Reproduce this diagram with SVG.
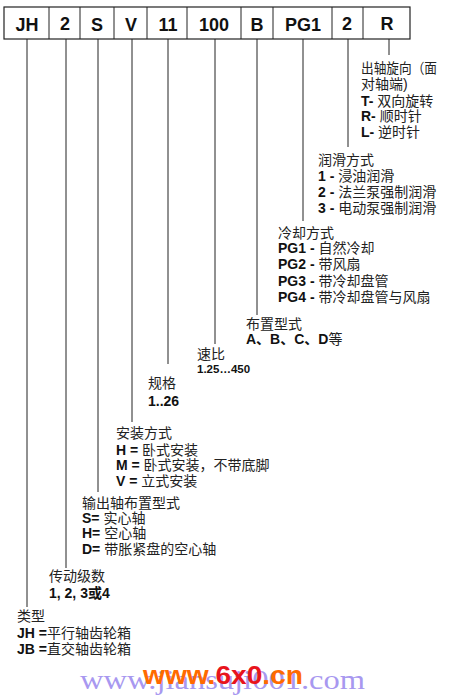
<svg xmlns="http://www.w3.org/2000/svg" width="450" height="699" viewBox="0 0 450 699">
<style>
.box{fill:#fff;stroke:#222;stroke-width:1.2}
.bl{font-family:"Liberation Sans",Arial,sans-serif;font-weight:bold;font-size:18px;fill:#111;text-anchor:middle}
.t{font-family:"Liberation Sans","Noto Sans CJK SC",sans-serif;font-size:14px;fill:#222}
.b{font-weight:bold;fill:#111}
.ln{stroke:#222;stroke-width:1;fill:none}
</style>
<rect width="450" height="699" fill="#fff"/>
<g id="code-boxes">
<rect class="box" x="4" y="7" width="406" height="32"/>
<line class="ln" x1="49" y1="7" x2="49" y2="39"/>
<line class="ln" x1="80" y1="7" x2="80" y2="39"/>
<line class="ln" x1="114" y1="7" x2="114" y2="39"/>
<line class="ln" x1="147" y1="7" x2="147" y2="39"/>
<line class="ln" x1="187" y1="7" x2="187" y2="39"/>
<line class="ln" x1="241" y1="7" x2="241" y2="39"/>
<line class="ln" x1="273" y1="7" x2="273" y2="39"/>
<line class="ln" x1="332" y1="7" x2="332" y2="39"/>
<line class="ln" x1="363" y1="7" x2="363" y2="39"/>
<text class="bl" x="27" y="31">JH</text>
<text class="bl" x="65" y="30">2</text>
<text class="bl" x="97" y="31">S</text>
<text class="bl" x="131" y="31">V</text>
<text class="bl" x="168" y="31">11</text>
<text class="bl" x="214" y="31">100</text>
<text class="bl" x="257" y="31">B</text>
<text class="bl" x="303" y="31">PG1</text>
<text class="bl" x="347" y="30">2</text>
<text class="bl" x="387" y="30">R</text>
</g>
<g id="connectors">
<line class="ln" x1="27" y1="39" x2="27" y2="607"/>
<line class="ln" x1="66" y1="39" x2="66" y2="568"/>
<line class="ln" x1="98" y1="39" x2="98" y2="492"/>
<line class="ln" x1="132" y1="39" x2="132" y2="422"/>
<line class="ln" x1="168" y1="39" x2="168" y2="364"/>
<line class="ln" x1="215" y1="39" x2="215" y2="344"/>
<line class="ln" x1="257" y1="39" x2="257" y2="315"/>
<line class="ln" x1="303" y1="39" x2="303" y2="221"/>
<line class="ln" x1="348" y1="39" x2="348" y2="147"/>
<line class="ln" x1="389" y1="39" x2="389" y2="55"/>
</g>
<g id="rotation">
<text class="t" x="361" y="73" textLength="76" lengthAdjust="spacingAndGlyphs">出轴旋向（面</text>
<text class="t" x="361" y="89">对轴端)</text>
<text class="t" x="361" y="106"><tspan class="b">T-</tspan> 双向旋转</text>
<text class="t" x="361" y="121"><tspan class="b">R-</tspan> 顺时针</text>
<text class="t" x="361" y="137"><tspan class="b">L-</tspan> 逆时针</text>
</g>
<g id="lubrication">
<text class="t" x="318" y="165">润滑方式</text>
<text class="t" x="318" y="181"><tspan class="b">1 -</tspan> 浸油润滑</text>
<text class="t" x="318" y="197"><tspan class="b">2 -</tspan> 法兰泵强制润滑</text>
<text class="t" x="318" y="213"><tspan class="b">3 -</tspan> 电动泵强制润滑</text>
</g>
<g id="cooling">
<text class="t" x="278" y="238">冷却方式</text>
<text class="t" x="278" y="253"><tspan class="b">PG1 -</tspan> 自然冷却</text>
<text class="t" x="278" y="269"><tspan class="b">PG2 -</tspan> 带风扇</text>
<text class="t" x="278" y="286"><tspan class="b">PG3 -</tspan> 带冷却盘管</text>
<text class="t" x="278" y="302"><tspan class="b">PG4 -</tspan> 带冷却盘管与风扇</text>
</g>
<g id="arrangement">
<text class="t" x="246" y="329">布置型式</text>
<text class="t" x="246" y="344"><tspan class="b">A、B、C、D</tspan>等</text>
</g>
<g id="ratio">
<text class="t" x="197" y="359">速比</text>
<text class="t b" x="197" y="373" style="font-size:11.5px">1.25…450</text>
</g>
<g id="size">
<text class="t" x="148" y="388">规格</text>
<text class="t b" x="148" y="406">1..26</text>
</g>
<g id="mounting">
<text class="t" x="116" y="438">安装方式</text>
<text class="t" x="116" y="455"><tspan class="b">H =</tspan> 卧式安装</text>
<text class="t" x="116" y="470"><tspan class="b">M =</tspan> 卧式安装，不带底脚</text>
<text class="t" x="116" y="486"><tspan class="b">V =</tspan> 立式安装</text>
</g>
<g id="output-shaft">
<text class="t" x="82" y="508">输出轴布置型式</text>
<text class="t" x="82" y="523"><tspan class="b">S=</tspan>  实心轴</text>
<text class="t" x="82" y="538"><tspan class="b">H=</tspan>  空心轴</text>
<text class="t" x="82" y="554"><tspan class="b">D=</tspan>  带胀紧盘的空心轴</text>
</g>
<g id="stages">
<text class="t" x="49" y="581">传动级数</text>
<text class="t b" x="49" y="598">1, 2, 3或4</text>
</g>
<g id="type">
<text class="t" x="17" y="621">类型</text>
<text class="t" x="17" y="638"><tspan class="b">JH =</tspan>平行轴齿轮箱</text>
<text class="t" x="17" y="654"><tspan class="b">JB =</tspan>直交轴齿轮箱</text>
</g>
<g id="watermark">
<text x="80" y="689" textLength="285" lengthAdjust="spacingAndGlyphs" style="font-family:'Liberation Serif',serif;font-size:28px;fill:#a898f0">www.jiansuji001.com</text>
<text x="143" y="684" textLength="160" lengthAdjust="spacingAndGlyphs" style="font-family:'Liberation Sans',sans-serif;font-weight:bold;font-size:25px;fill:#ff6a00">www.<tspan fill="#e8141c">6x0</tspan>.cn</text>
</g>
</svg>
